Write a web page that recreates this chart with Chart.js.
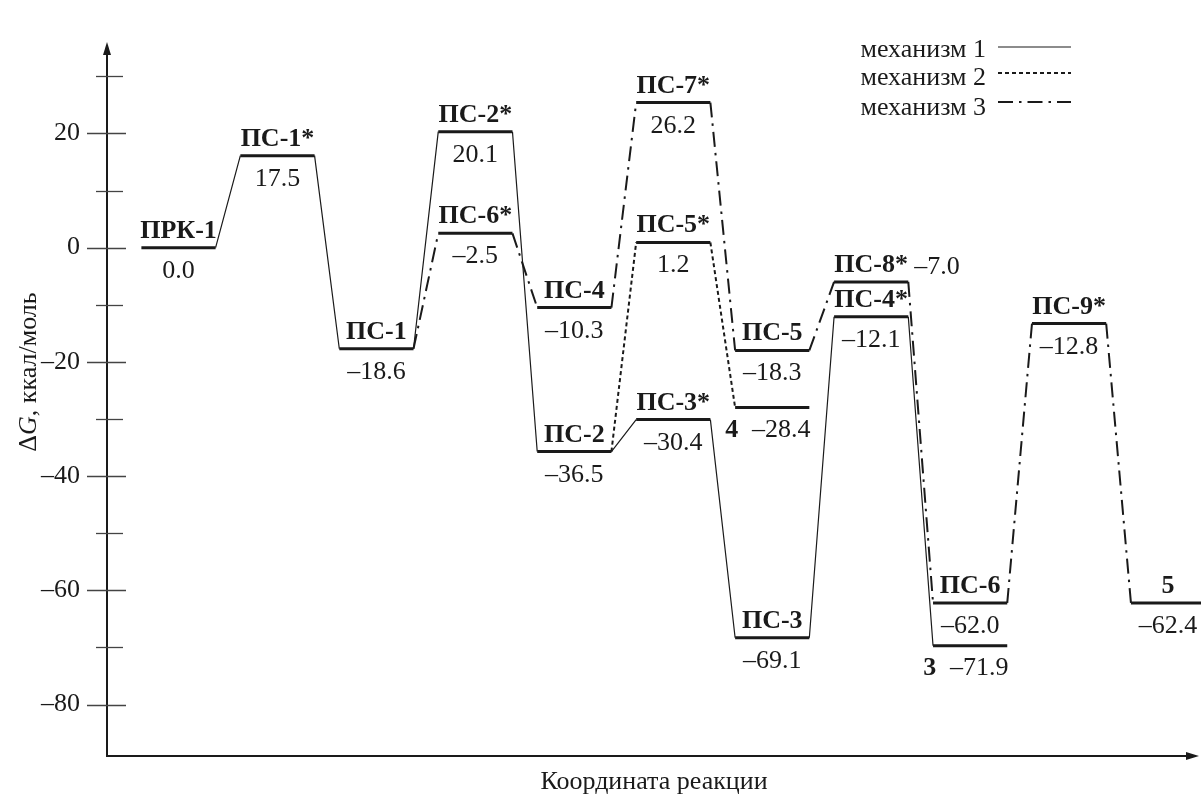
<!DOCTYPE html>
<html>
<head>
<meta charset="utf-8">
<title>ΔG – координата реакции</title>
<script src="https://cdn.jsdelivr.net/npm/chart.js@4.4.1/dist/chart.umd.min.js"></script>
<style>
    body { margin: 0; background: #fff; }
    #chart-container { width: 1201px; height: 796px; }
</style>
</head>
<body>
<div id="chart-container"><canvas id="energyChart" width="1201" height="796"></canvas></div>
<script>
// levels of the energy diagram (reaction coordinate step, drawn energy, printed value)
const levelNames  = ['ПРК-1', 'ПС-1*', 'ПС-1', 'ПС-2*', 'ПС-6*', 'ПС-4', 'ПС-2', 'ПС-7*', 'ПС-5*', 'ПС-3*',
                     'ПС-5', '4', 'ПС-3', 'ПС-8*', 'ПС-4*', 'ПС-6', '3', 'ПС-9*', '5'];
const levelCoord  = [0, 1, 2, 3, 3, 4, 4, 5, 5, 5, 6, 6, 6, 7, 7, 8, 8, 9, 10];
const levelEnergy = [0, 16.1, -17.7, 20.3, 2.5, -10.5, -35.7, 25.4, 0.9, -30.1,
                     -18.0, -28.0, -68.3, -6.0, -12.1, -62.2, -69.7, -13.3, -62.2];
const levelText   = ['0.0', '17.5', '–18.6', '20.1', '–2.5', '–10.3', '–36.5', '26.2', '1.2', '–30.4',
                     '–18.3', '–28.4', '–69.1', '–7.0', '–12.1', '–62.0', '–71.9', '–12.8', '–62.4'];

// paths of the three mechanisms
const mechanism1 = ['ПРК-1', 'ПС-1*', 'ПС-1', 'ПС-2*', 'ПС-2', 'ПС-3*', 'ПС-3', 'ПС-4*', '3'];
const mechanism2 = ['ПС-2', 'ПС-5*', '4'];
const mechanism3 = ['ПС-1', 'ПС-6*', 'ПС-4', 'ПС-7*', 'ПС-5', 'ПС-8*', 'ПС-6', 'ПС-9*', '5'];
const mechanismNames = ['механизм 1', 'механизм 2', 'механизм 3'];

const yTickValues = [-80, -70, -60, -50, -40, -30, -20, -10, 0, 10, 20, 30];

const HALF = 0.375;           // half width of a level, in reaction coordinate steps
const ink = '#1a1a1a';
const serif = '"Liberation Serif", "Times New Roman", serif';
const fs = 26;
const dash2 = [4, 3];
const dash3 = [15, 6, 2.5, 6];

function idx(name) {
    return levelNames.indexOf(name);
}

function fmt(v) {
    return v < 0 ? '–' + Math.abs(v) : String(v);
}

function levelPoints() {
    const pts = [];
    levelNames.forEach(function (n, i) {
        pts.push({ x: levelCoord[i] - HALF, y: levelEnergy[i] });
        pts.push({ x: levelCoord[i] + HALF, y: levelEnergy[i] });
        pts.push({ x: levelCoord[i], y: null });
    });
    return pts;
}

// connectors: right end of one level to the left end of the next one
function pathPoints(chain) {
    const pts = [];
    for (let k = 0; k < chain.length - 1; k++) {
        const a = idx(chain[k]);
        const b = idx(chain[k + 1]);
        pts.push({ x: levelCoord[a] + HALF, y: levelEnergy[a] });
        pts.push({ x: levelCoord[b] - HALF, y: levelEnergy[b] });
        pts.push({ x: levelCoord[b], y: null });
    }
    return pts;
}

const axesPlugin = {
    id: 'axes',
    beforeDatasetsDraw(chart) {
        const { ctx, chartArea: a, scales: { y } } = chart;
        const x0 = a.left, y0 = a.bottom;
        ctx.save();
        ctx.strokeStyle = ink;
        ctx.fillStyle = ink;
        ctx.lineWidth = 2;
        ctx.beginPath();
        ctx.moveTo(x0, y0);
        ctx.lineTo(x0, a.top + 10);
        ctx.moveTo(x0 - 1, y0);
        ctx.lineTo(a.right - 12, y0);
        ctx.stroke();

        // arrow heads
        ctx.beginPath();
        ctx.moveTo(x0, a.top);
        ctx.lineTo(x0 - 4, a.top + 13);
        ctx.lineTo(x0 + 4, a.top + 13);
        ctx.closePath();
        ctx.fill();
        ctx.beginPath();
        ctx.moveTo(a.right - 2, y0);
        ctx.lineTo(a.right - 15, y0 - 4);
        ctx.lineTo(a.right - 15, y0 + 4);
        ctx.closePath();
        ctx.fill();

        // tick marks cross the axis
        ctx.strokeStyle = '#444';
        ctx.lineWidth = 1.3;
        y.ticks.forEach(function (t) {
            const py = Math.round(y.getPixelForValue(t.value)) + 0.5;
            const major = t.value % 20 === 0;
            ctx.beginPath();
            ctx.moveTo(x0 - (major ? 20 : 11), py);
            ctx.lineTo(x0 + (major ? 19 : 16), py);
            ctx.stroke();
        });

        // axis titles
        ctx.fillStyle = ink;
        ctx.textBaseline = 'alphabetic';
        ctx.font = fs + 'px ' + serif;
        ctx.textAlign = 'center';
        ctx.fillText('Координата реакции', (a.left + a.right) / 2, 789);

        const parts = [['Δ', fs + 'px ' + serif], ['G', 'italic ' + fs + 'px ' + serif], [', ккал/моль', fs + 'px ' + serif]];
        let total = 0;
        parts.forEach(function (p) { ctx.font = p[1]; total += ctx.measureText(p[0]).width; });
        ctx.translate(36, 372);
        ctx.rotate(-Math.PI / 2);
        ctx.textAlign = 'left';
        let cx = -total / 2;
        parts.forEach(function (p) {
            ctx.font = p[1];
            ctx.fillText(p[0], cx, 0);
            cx += ctx.measureText(p[0]).width;
        });
        ctx.restore();
    }
};

const labelPlugin = {
    id: 'levelLabels',
    afterDatasetsDraw(chart) {
        const { ctx, scales: { x, y } } = chart;
        ctx.save();
        ctx.fillStyle = ink;
        ctx.textBaseline = 'alphabetic';
        levelNames.forEach(function (name, i) {
            const px = x.getPixelForValue(levelCoord[i]);
            const py = y.getPixelForValue(levelEnergy[i]);
            ctx.font = 'bold ' + fs + 'px ' + serif;
            if (name === '4' || name === '3') {
                // compound number sits left of its value, under the level
                ctx.textAlign = 'right';
                ctx.fillText(name, px - 34, py + 29);
                ctx.font = fs + 'px ' + serif;
                ctx.textAlign = 'center';
                ctx.fillText(levelText[i], px + 9, py + 29);
                return;
            }
            ctx.textAlign = 'center';
            ctx.fillText(name, px, py - 10);
            ctx.font = fs + 'px ' + serif;
            if (name === 'ПС-8*') {
                ctx.textAlign = 'left';
                ctx.fillText(levelText[i], px + 43, py - 8);
            } else {
                ctx.fillText(levelText[i], px, py + 30);
            }
        });

        // legend: text, then line sample
        const dashes = [[], dash2, dash3];
        const widths = [1.2, 2, 2];
        mechanismNames.forEach(function (m, k) {
            const ly = [47, 73, 102][k];
            ctx.font = fs + 'px ' + serif;
            ctx.textAlign = 'right';
            ctx.fillText(m, 986, [57, 85, 115][k]);
            ctx.beginPath();
            ctx.setLineDash(dashes[k]);
            ctx.lineWidth = widths[k];
            ctx.strokeStyle = ink;
            ctx.moveTo(998, ly);
            ctx.lineTo(1071, ly);
            ctx.stroke();
        });
        ctx.restore();
    }
};

document.addEventListener('DOMContentLoaded', function () {
    const ctx = document.getElementById('energyChart').getContext('2d');
    new Chart(ctx, {
        type: 'line',
        data: {
            datasets: [{
                label: 'уровни',
                data: levelPoints(),
                borderColor: ink,
                borderWidth: 3,
                borderCapStyle: 'butt',
                pointRadius: 0,
                clip: false
            }, {
                label: mechanismNames[0],
                data: pathPoints(mechanism1),
                borderColor: ink,
                borderWidth: 1.2,
                pointRadius: 0
            }, {
                label: mechanismNames[1],
                data: pathPoints(mechanism2),
                borderColor: ink,
                borderWidth: 2,
                borderDash: dash2,
                pointRadius: 0
            }, {
                label: mechanismNames[2],
                data: pathPoints(mechanism3),
                borderColor: ink,
                borderWidth: 2,
                borderDash: dash3,
                pointRadius: 0
            }]
        },
        options: {
            responsive: false,
            animation: false,
            devicePixelRatio: 1,
            layout: { padding: { top: 42, right: 0, bottom: 40, left: 0 } },
            plugins: {
                legend: { display: false },
                tooltip: { enabled: false }
            },
            scales: {
                x: {
                    type: 'linear',
                    display: false,
                    min: -0.7226,
                    max: 10.333
                },
                y: {
                    type: 'linear',
                    min: -89,
                    max: 36,
                    afterBuildTicks: function (s) {
                        s.ticks = yTickValues.map(function (v) { return { value: v }; });
                    },
                    afterFit: function (s) { s.width = 107; },
                    grid: { display: false, drawTicks: false },
                    border: { display: false },
                    ticks: {
                        padding: 27,
                        color: ink,
                        font: { family: serif, size: fs, lineHeight: 1 },
                        callback: function (v) { return v % 20 === 0 ? fmt(v) : ''; }
                    }
                }
            }
        },
        plugins: [axesPlugin, labelPlugin]
    });
});
</script>
</body>
</html>
